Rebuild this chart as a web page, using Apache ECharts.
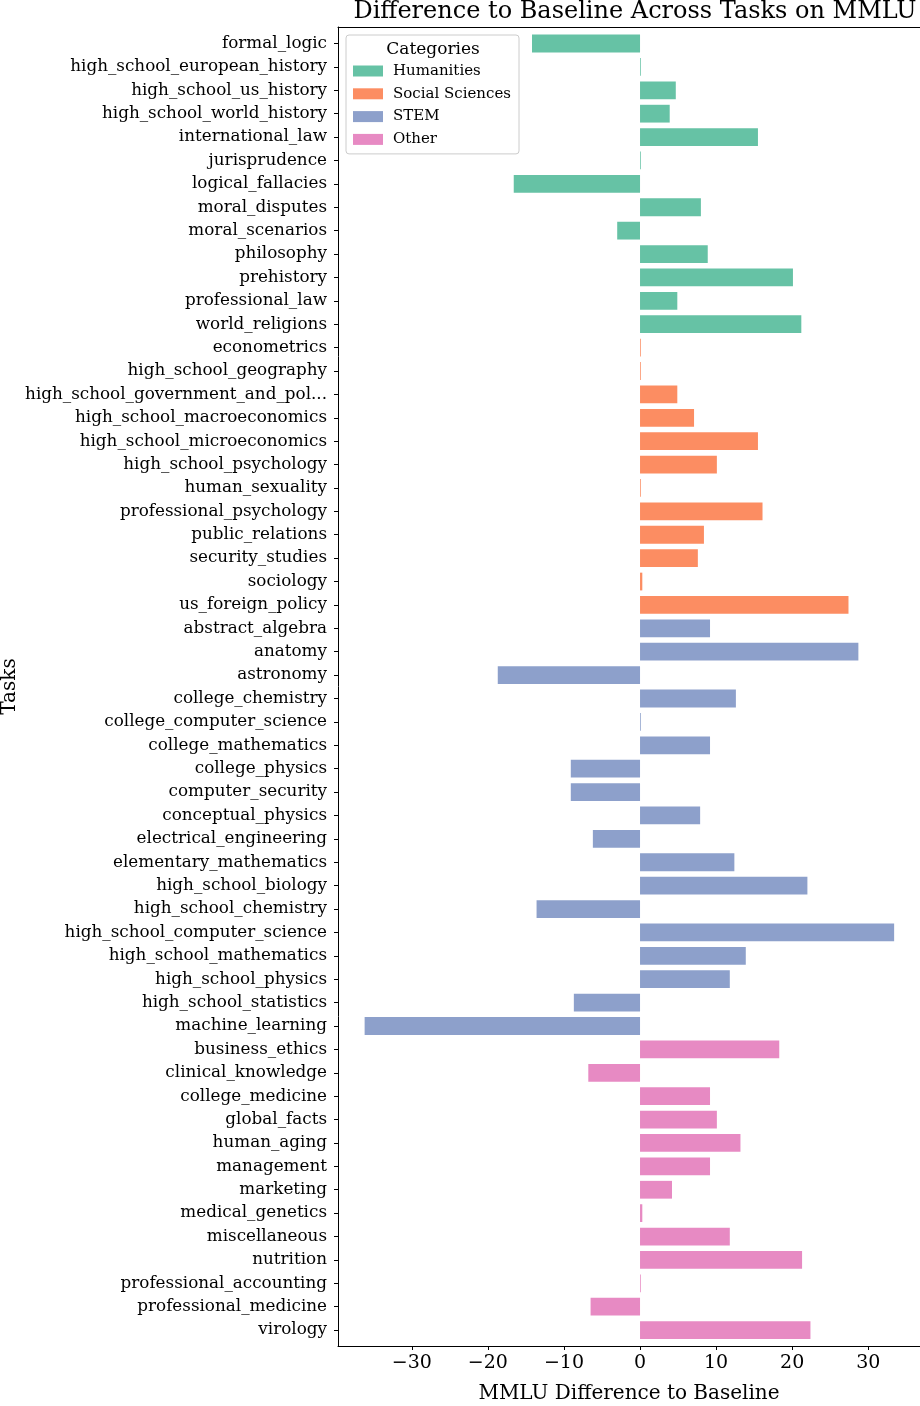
<!DOCTYPE html>
<html>
<head>
<meta charset="utf-8">
<script src="https://cdn.jsdelivr.net/npm/echarts@6/dist/echarts.min.js"></script>
<style>
html,body{margin:0;padding:0;background:#fff;}
#chart{width:920px;height:1406px;}
</style>
</head>
<body>
<div id="chart"></div>
<script>
const categoryNames = ['Humanities', 'Social Sciences', 'STEM', 'Other'];
const categoryColors = ['#66c2a5', '#fc8d62', '#8da0cb', '#e78ac3'];

const humanitiesTasks = ['formal_logic','high_school_european_history','high_school_us_history','high_school_world_history','international_law','jurisprudence','logical_fallacies','moral_disputes','moral_scenarios','philosophy','prehistory','professional_law','world_religions'];
const humanitiesValues = [-14.2, 0.1, 4.7, 3.9, 15.5, 0.1, -16.6, 8.0, -3.0, 8.9, 20.1, 4.9, 21.2];

const socialTasks = ['econometrics','high_school_geography','high_school_government_and_pol...','high_school_macroeconomics','high_school_microeconomics','high_school_psychology','human_sexuality','professional_psychology','public_relations','security_studies','sociology','us_foreign_policy'];
const socialValues = [0.1, 0.1, 4.9, 7.1, 15.5, 10.1, 0.1, 16.1, 8.4, 7.6, 0.3, 27.4];

const stemTasks = ['abstract_algebra','anatomy','astronomy','college_chemistry','college_computer_science','college_mathematics','college_physics','computer_security','conceptual_physics','electrical_engineering','elementary_mathematics','high_school_biology','high_school_chemistry','high_school_computer_science','high_school_mathematics','high_school_physics','high_school_statistics','machine_learning'];
const stemValues = [9.2, 28.7, -18.7, 12.6, 0.1, 9.2, -9.1, -9.1, 7.9, -6.2, 12.4, 22.0, -13.6, 33.4, 13.9, 11.8, -8.7, -36.2];

const otherTasks = ['business_ethics','clinical_knowledge','college_medicine','global_facts','human_aging','management','marketing','medical_genetics','miscellaneous','nutrition','professional_accounting','professional_medicine','virology'];
const otherValues = [18.3, -6.8, 9.2, 10.1, 13.2, 9.2, 4.2, 0.3, 11.8, 21.3, 0.1, -6.5, 22.4];

const xTickValues = [-30, -20, -10, 0, 10, 20, 30];

const groups = [
  [humanitiesTasks, humanitiesValues],
  [socialTasks, socialValues],
  [stemTasks, stemValues],
  [otherTasks, otherValues]
];
const allTasks = [].concat(...groups.map(g => g[0]));

const series = groups.map((g, gi) => {
  const map = {};
  g[0].forEach((t, i) => { map[t] = g[1][i]; });
  return {
    name: categoryNames[gi],
    type: 'bar',
    xAxisIndex: 1,
    yAxisIndex: 1,
    barWidth: '76%',
    barGap: '-100%',
    itemStyle: { color: categoryColors[gi] },
    data: allTasks.map(t => (t in map ? map[t] : null)),
    animation: false
  };
});

const FONT = 'DejaVu Serif';
const XMIN = -39.7, XMAX = 36.8;

const chart = echarts.init(document.getElementById('chart'), null, { renderer: 'canvas' });
chart.setOption({
  animation: false,
  backgroundColor: '#fff',
  textStyle: { fontFamily: FONT, color: '#000' },
  title: [
    {
      text: 'Difference to Baseline Across Tasks on MMLU',
      left: 630, top: -5, textAlign: 'center',
      textStyle: { fontFamily: FONT, fontSize: 24, fontWeight: 'normal', color: '#000' }
    },
    {
      text: 'Categories',
      left: 428, top: 36, textAlign: 'center',
      textStyle: { fontFamily: FONT, fontSize: 17, fontWeight: 'normal', color: '#000' },
      z: 10
    }
  ],
  legend: {
    left: 346, top: 35,
    orient: 'vertical',
    icon: 'rect',
    itemWidth: 30, itemHeight: 11,
    itemGap: 7.8,
    padding: [28.5, 8, 7, 7],
    backgroundColor: '#fff',
    borderColor: '#cccccc',
    borderWidth: 1,
    borderRadius: 3,
    textStyle: { fontFamily: FONT, fontSize: 15, color: '#000', padding: [0, 0, 0, 5] },
    data: categoryNames
  },
  grid: [
    { left: 338, right: 0, top: 27, bottom: 60, containLabel: false, outerBoundsMode: 'none' },
    { left: 338, right: 0, top: 31.8, bottom: 64.2, containLabel: false, outerBoundsMode: 'none' }
  ],
  xAxis: [
    {
      gridIndex: 0, type: 'value', position: 'bottom', min: XMIN, max: XMAX,
      axisLine: { show: true, onZero: false, lineStyle: { color: '#000', width: 1 } },
      axisTick: { show: true, length: 4, lineStyle: { color: '#000' }, customValues: xTickValues },
      axisLabel: { show: true, fontFamily: FONT, fontSize: 19, color: '#000', margin: 8,
        customValues: xTickValues,
        formatter: v => String(v).replace('-', '\u2212') },
      splitLine: { show: false },
      name: 'MMLU Difference to Baseline', nameLocation: 'middle', nameGap: 38,
      nameTextStyle: { fontFamily: FONT, fontSize: 20, color: '#000' }
    },
    {
      gridIndex: 1, type: 'value', min: XMIN, max: XMAX, show: false,
      axisLine: { onZero: false }
    },
    {
      gridIndex: 0, type: 'value', position: 'top', min: XMIN, max: XMAX,
      axisLine: { show: true, onZero: false, lineStyle: { color: '#000', width: 1 } },
      axisTick: { show: false }, axisLabel: { show: false }, splitLine: { show: false }
    }
  ],
  yAxis: [
    {
      gridIndex: 0, type: 'value', position: 'left', min: 0, max: 1,
      axisLine: { show: true, onZero: false, lineStyle: { color: '#000', width: 1 } },
      axisTick: { show: false }, axisLabel: { show: false }, splitLine: { show: false },
      name: 'Tasks', nameLocation: 'middle', nameGap: 318, nameRotate: 90,
      nameTextStyle: { fontFamily: FONT, fontSize: 20, color: '#000' }
    },
    {
      gridIndex: 1, type: 'category', inverse: true, data: allTasks, position: 'left',
      axisLine: { show: false, onZero: false },
      axisTick: { show: true, alignWithLabel: true, length: 4, lineStyle: { color: '#000' } },
      axisLabel: { fontFamily: FONT, fontSize: 16.8, color: '#000', margin: 11, interval: 0,
        padding: [3, 0, 0, 0] },
      splitLine: { show: false }
    }
  ],
  series: series
});
</script>
</body>
</html>
